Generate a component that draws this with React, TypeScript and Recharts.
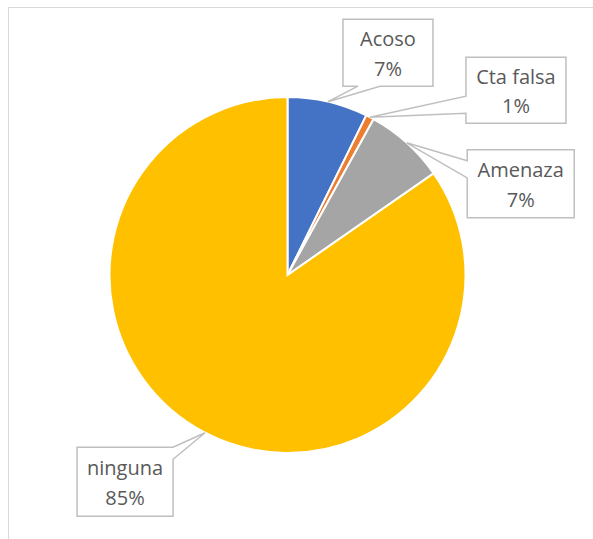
import React from "react";
import { PieChart, Pie, Cell } from "recharts";

const categories = ["Acoso", "Cta falsa", "Amenaza", "ninguna"];
const counts = [10, 1, 10, 116];
const COLORS = ["#4472C4", "#ED7D31", "#A5A5A5", "#FFC000"];

const data = categories.map((name, i) => ({ name, value: counts[i] }));

// callout box placement relative to the slice tip (Excel-style data callouts)
const CALLOUTS = [
  { dx: 60, dy: -49, w: 90, h: 67, side: "bottom", a: -30, b: -8 },
  { dx: 146, dy: -27, w: 100, h: 66, side: "left", a: 6, b: 23 },
  { dx: 114, dy: 41, w: 107, h: 68, side: "left", a: -23, b: -6 },
  { dx: -80, dy: 49, w: 96, h: 69, side: "right", a: -34.5, b: -22.5 },
];

const RADIAN = Math.PI / 180;

const renderCallout = (props: any) => {
  const { cx, cy, midAngle, outerRadius, index, name, percent } = props;
  const tx = cx + outerRadius * Math.cos(-midAngle * RADIAN);
  const ty = cy + outerRadius * Math.sin(-midAngle * RADIAN);
  const c = CALLOUTS[index];
  const bx = tx + c.dx;
  const by = ty + c.dy;
  const x0 = bx - c.w / 2;
  const x1 = bx + c.w / 2;
  const y0 = by - c.h / 2;
  const y1 = by + c.h / 2;

  let pts: number[][] = [];
  if (c.side === "bottom") {
    pts = [[x0, y0], [x1, y0], [x1, y1], [bx + c.b, y1], [tx, ty], [bx + c.a, y1], [x0, y1]];
  } else if (c.side === "left") {
    pts = [[x0, y0], [x1, y0], [x1, y1], [x0, y1], [x0, by + c.b], [tx, ty], [x0, by + c.a]];
  } else if (c.side === "right") {
    pts = [[x0, y0], [x1, y0], [x1, by + c.a], [tx, ty], [x1, by + c.b], [x1, y1], [x0, y1]];
  } else {
    pts = [[x0, y0], [bx + c.a, y0], [tx, ty], [bx + c.b, y0], [x1, y0], [x1, y1], [x0, y1]];
  }
  const d = "M" + pts.map((p) => `${p[0]},${p[1]}`).join("L") + "Z";

  return (
    <g key={`callout-${index}`}>
      <path d={d} fill="#ffffff" stroke="#BFBFBF" strokeWidth={1.5} />
      <text
        x={bx}
        textAnchor="middle"
        fill="#595959"
        fontSize={20}
        fontFamily="'Open Sans', sans-serif"
      >
        <tspan x={bx} y={by - 6.5}>
          {name}
        </tspan>
        <tspan x={bx} y={by + 23}>
          {`${Math.round(percent * 100)}%`}
        </tspan>
      </text>
    </g>
  );
};

export default function App() {
  return (
    <div
      style={{
        position: "fixed",
        left: 0,
        top: 0,
        width: 593,
        height: 539,
        overflow: "hidden",
        background: "#ffffff",
      }}
    >
      <div
        style={{
          position: "absolute",
          left: 8,
          top: 7,
          width: 640,
          height: 640,
          border: "1px solid #D9D9D9",
        }}
      />
      <div style={{ position: "absolute", left: 0, top: 0 }}>
        <PieChart
          width={593}
          height={539}
          margin={{ top: 0, right: 0, bottom: 0, left: 0 }}
        >
          <Pie
            data={data}
            dataKey="value"
            nameKey="name"
            cx={287.5}
            cy={275}
            outerRadius={178}
            startAngle={90}
            endAngle={-270}
            stroke="#ffffff"
            strokeWidth={2}
            labelLine={false}
            label={renderCallout}
            isAnimationActive={false}
          >
            {data.map((entry, index) => (
              <Cell key={`cell-${index}`} fill={COLORS[index % COLORS.length]} />
            ))}
          </Pie>
        </PieChart>
      </div>
    </div>
  );
}
